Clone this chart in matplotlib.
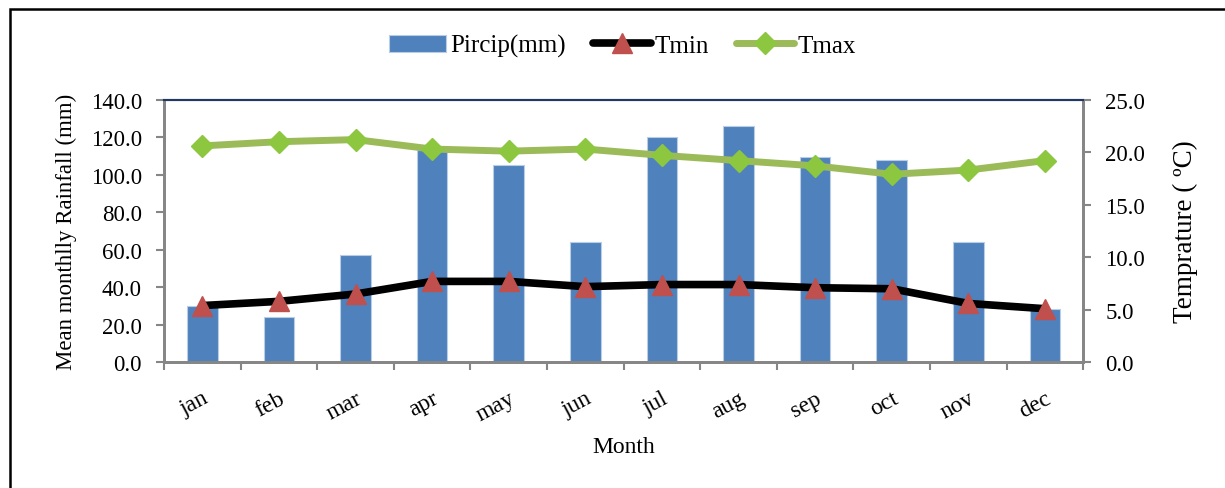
import matplotlib
matplotlib.use('Agg')
import matplotlib.pyplot as plt
import matplotlib.patches as mpatches
from matplotlib.ticker import FormatStrFormatter, MultipleLocator
import numpy as np

# Monthly climate data
months = ['jan', 'feb', 'mar', 'apr', 'may', 'jun',
          'jul', 'aug', 'sep', 'oct', 'nov', 'dec']
rainfall = [30.0, 24.0, 57.0, 113.0, 105.0, 64.0,
            120.0, 126.0, 109.5, 108.0, 64.0, 28.5]
tmin = [5.4, 5.8, 6.5, 7.7, 7.7, 7.2, 7.4, 7.4, 7.1, 7.0, 5.6, 5.1]
tmax = [20.6, 21.0, 21.2, 20.3, 20.1, 20.3, 19.7, 19.2, 18.7, 17.9, 18.3, 19.2]

plt.rcParams['font.family'] = ['Liberation Serif', 'DejaVu Serif']

gray = '#868686'

fig = plt.figure(figsize=(12.25, 4.89), dpi=100)
ax1 = fig.add_axes([0.1339, 0.2571, 0.7504, 0.5370])
ax2 = ax1.twinx()

x = np.arange(len(months))

# Rainfall bars on the left axis
bars = ax1.bar(x, rainfall, width=0.4, color='#4F81BD', edgecolor='#B9CDE5',
               linewidth=0.8, label='Pircip(mm)')

# Temperature lines on the right axis
l1, = ax2.plot(x, tmin, color='black', lw=5.5, marker='^', ms=15,
               mfc='#C0504D', mec='#C0504D', label='Tmin', solid_capstyle='round')
l2, = ax2.plot(x, tmax, color='#9BBB59', lw=5, marker='D', ms=11,
               mfc='#8DC63F', mec='#8DC63F', label='Tmax', solid_capstyle='round')

ax1.set_xlim(-0.5, 11.5)
ax1.set_ylim(0, 140)
ax2.set_ylim(0, 25)
ax1.yaxis.set_major_locator(MultipleLocator(20))
ax2.yaxis.set_major_locator(MultipleLocator(5))
ax1.yaxis.set_major_formatter(FormatStrFormatter('%.1f'))
ax2.yaxis.set_major_formatter(FormatStrFormatter('%.1f'))

# Category labels between boundary ticks
ax1.set_xticks(np.arange(-0.5, 12, 1))
ax1.set_xticklabels([])
ax1.set_xticks(x, minor=True)
ax1.set_xticklabels(months, minor=True, rotation=28, ha='right',
                    rotation_mode='anchor', fontsize=17)
ax1.tick_params(axis='x', which='minor', length=0, pad=18)
ax1.tick_params(axis='x', which='major', length=6, color=gray, width=1.5)

ax1.tick_params(axis='y', length=6, color=gray, width=1.5, labelsize=16.5, pad=10)
ax2.tick_params(axis='y', length=6, color=gray, width=1.5, labelsize=16.5, pad=10)

for ax in (ax1, ax2):
    for side in ('left', 'right', 'bottom'):
        ax.spines[side].set_color(gray)
        ax.spines[side].set_linewidth(2)
    ax.spines['top'].set_color('#1F3864')
    ax.spines['top'].set_linewidth(1.5)

ax1.set_ylabel('Mean monthlly Rainfall (mm)', fontsize=16.5, labelpad=10)
ax2.set_ylabel('Temprature ( ºC)', fontsize=19.5, labelpad=20)
ax1.set_xlabel('Month', fontsize=17, labelpad=8)

fig.legend(handles=[bars, l1, l2], loc='center', bbox_to_anchor=(0.508, 0.904),
           ncol=3, frameon=False, fontsize=18, handlelength=2.3,
           columnspacing=1.1, handletextpad=0.15)

# Outer frame around the chart
frame = mpatches.Rectangle((10 / 1225, -0.05), 1.1, 1 - 10 / 489 + 0.05,
                           transform=fig.transFigure, fill=False,
                           edgecolor='black', linewidth=1.8, clip_on=False)
fig.patches.append(frame)

fig.savefig('out.png', dpi=100)
